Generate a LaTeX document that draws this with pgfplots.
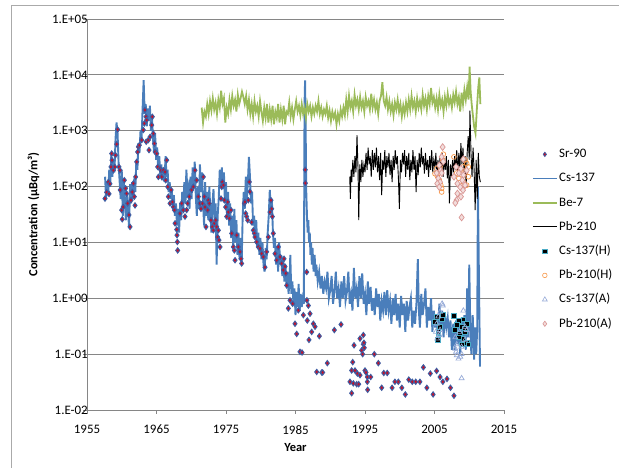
\documentclass[border=0pt]{standalone}
\usepackage{fontspec}
\setmainfont{Carlito}
\usepackage{pgfplots}
\usepackage{pgfplotstable}
\pgfplotsset{compat=1.18}

\definecolor{gridgray}{RGB}{134,134,134}
\definecolor{framegray}{RGB}{170,170,170}
\definecolor{csblue}{RGB}{74,126,187}
\definecolor{begreen}{RGB}{155,187,89}
\definecolor{srred}{RGB}{190,20,45}
\definecolor{srblue}{RGB}{60,95,165}
\definecolor{csteal}{RGB}{75,172,198}
\definecolor{pborange}{RGB}{247,150,70}
\definecolor{cslav}{RGB}{150,170,215}
\definecolor{pbrose}{RGB}{217,150,148}
\definecolor{pbpink}{RGB}{242,220,219}

\pgfplotsset{
  lineleg/.style={legend image code/.code={\draw[##1] (0bp,0bp) -- (24bp,0bp);}},
  markleg/.style={legend image code/.code={\draw[##1] plot coordinates {(12bp,0bp)};}},
}

% Cs-137
\pgfplotstableread[row sep=\\]{
x y\\
1957.6 150\\ 1957.75 60\\ 1957.9 120\\ 1958.05 70\\ 1958.2 200\\ 1958.35 110\\ 1958.5 400\\ 1958.65 150\\
1958.8 300\\ 1958.95 180\\ 1959.1 700\\ 1959.25 1400\\ 1959.4 900\\ 1959.55 250\\ 1959.7 120\\ 1959.85 60\\
1960.0 200\\ 1960.15 30\\ 1960.3 120\\ 1960.45 50\\ 1960.6 25\\ 1960.75 80\\ 1960.9 40\\ 1961.05 18\\
1961.2 110\\ 1961.35 50\\ 1961.5 120\\ 1961.65 60\\ 1961.8 140\\ 1961.95 80\\ 1962.1 300\\ 1962.25 200\\
1962.4 600\\ 1962.55 400\\ 1962.7 1000\\ 1962.85 700\\ 1963.0 2500\\ 1963.15 8000\\ 1963.3 2000\\ 1963.45 3000\\
1963.6 1200\\ 1963.75 2500\\ 1963.9 1500\\ 1964.05 2800\\ 1964.2 1000\\ 1964.35 1800\\ 1964.5 700\\ 1964.65 400\\
1964.8 900\\ 1964.95 300\\ 1965.1 500\\ 1965.25 200\\ 1965.4 350\\ 1965.55 150\\ 1965.7 250\\ 1965.85 130\\
1966.0 200\\ 1966.15 120\\ 1966.3 350\\ 1966.45 150\\ 1966.6 200\\ 1966.75 80\\ 1966.9 120\\ 1967.05 60\\
1967.2 90\\ 1967.35 40\\ 1967.5 70\\ 1967.65 30\\ 1967.8 50\\ 1967.95 20\\ 1968.1 40\\ 1968.25 15\\
1968.4 50\\ 1968.55 25\\ 1968.7 80\\ 1968.85 40\\ 1969.0 120\\ 1969.15 50\\ 1969.3 200\\ 1969.45 80\\
1969.6 100\\ 1969.75 40\\ 1969.9 150\\ 1970.05 60\\ 1970.2 220\\ 1970.35 100\\ 1970.5 280\\ 1970.65 70\\
1970.8 30\\ 1970.95 100\\ 1971.1 40\\ 1971.25 250\\ 1971.4 80\\ 1971.55 180\\ 1971.7 50\\ 1971.85 20\\
1972.0 120\\ 1972.15 30\\ 1972.3 80\\ 1972.45 25\\ 1972.6 100\\ 1972.75 35\\ 1972.9 15\\ 1973.05 50\\
1973.2 90\\ 1973.35 25\\ 1973.5 50\\ 1973.65 4\\ 1973.8 30\\ 1973.95 60\\ 1974.1 200\\ 1974.25 100\\
1974.4 220\\ 1974.55 90\\ 1974.7 180\\ 1974.85 50\\ 1975.0 120\\ 1975.15 30\\ 1975.3 80\\ 1975.45 20\\
1975.6 50\\ 1975.75 12\\ 1975.9 30\\ 1976.05 8\\ 1976.2 40\\ 1976.35 10\\ 1976.5 25\\ 1976.65 6\\
1976.8 15\\ 1976.95 5\\ 1977.1 12\\ 1977.25 4\\ 1977.4 30\\ 1977.55 80\\ 1977.7 40\\ 1977.85 150\\
1978.0 60\\ 1978.15 120\\ 1978.3 340\\ 1978.45 150\\ 1978.6 50\\ 1978.75 80\\ 1978.9 20\\ 1979.05 30\\
1979.2 12\\ 1979.35 25\\ 1979.5 8\\ 1979.65 15\\ 1979.8 6\\ 1979.95 12\\ 1980.1 5\\ 1980.25 10\\
1980.4 4\\ 1980.55 3\\ 1980.7 8\\ 1980.85 5\\ 1981.0 15\\ 1981.15 30\\ 1981.3 87\\ 1981.45 40\\
1981.6 60\\ 1981.75 15\\ 1981.9 8\\ 1982.05 12\\ 1982.2 4\\ 1982.35 8\\ 1982.5 3\\ 1982.65 10\\
1982.8 4\\ 1982.95 6\\ 1983.1 2.5\\ 1983.25 5\\ 1983.4 2\\ 1983.55 4\\ 1983.7 1.6\\ 1983.85 3\\
1984.0 1.2\\ 1984.15 2\\ 1984.25 6\\ 1984.4 1.2\\ 1984.55 2\\ 1984.7 0.8\\ 1984.85 1.5\\ 1985.0 0.5\\
1985.15 1.3\\ 1985.3 0.7\\ 1985.45 1.8\\ 1985.6 0.6\\ 1985.75 1.2\\ 1985.9 0.7\\ 1986.05 1.0\\ 1986.2 0.8\\
1986.3 3000\\ 1986.38 8000\\ 1986.45 1500\\ 1986.55 80\\ 1986.65 30\\ 1986.75 15\\ 1986.85 25\\ 1986.95 10\\
1987.05 15\\ 1987.15 6\\ 1987.25 10\\ 1987.35 4\\ 1987.45 8\\ 1987.6 3\\ 1987.75 6\\ 1987.9 2.5\\
1988.0 4\\ 1988.2 2\\ 1988.4 3\\ 1988.6 1.5\\ 1988.8 2.5\\ 1989.0 1.2\\ 1989.2 2\\ 1989.4 1.5\\
1989.6 3\\ 1989.8 1.0\\ 1990.0 1.4\\ 1990.2 2.5\\ 1990.4 0.8\\ 1990.6 1.3\\ 1990.8 3\\ 1991.0 1.0\\
1991.2 1.5\\ 1991.4 0.7\\ 1991.6 2\\ 1991.8 1.0\\ 1992.0 2.5\\ 1992.2 0.9\\ 1992.4 1.3\\ 1992.6 3\\
1992.8 0.8\\ 1993.0 1.2\\ 1993.2 0.6\\ 1993.4 3.5\\ 1993.6 1.0\\ 1993.8 1.5\\ 1994.0 0.7\\ 1994.2 2.5\\
1994.4 1.0\\ 1994.6 2.8\\ 1994.8 0.8\\ 1995.0 1.2\\ 1995.2 0.5\\ 1995.4 2\\ 1995.6 0.8\\ 1995.8 1.6\\
1996.0 0.6\\ 1996.2 1.0\\ 1996.4 0.5\\ 1996.6 1.5\\ 1996.8 0.7\\ 1997.0 1.2\\ 1997.2 0.4\\ 1997.4 0.9\\
1997.6 0.6\\ 1997.8 1.3\\ 1998.0 0.5\\ 1998.2 1.4\\ 1998.4 0.6\\ 1998.6 0.9\\ 1998.8 0.35\\ 1999.0 1.0\\
1999.2 0.5\\ 1999.4 1.2\\ 1999.6 0.4\\ 1999.8 0.8\\ 2000.0 0.3\\ 2000.2 1.1\\ 2000.4 0.5\\ 2000.6 0.8\\
2000.8 0.25\\ 2001.0 0.9\\ 2001.2 0.4\\ 2001.4 0.7\\ 2001.6 1.0\\ 2001.8 0.3\\ 2002.0 0.6\\ 2002.2 0.35\\
2002.4 0.8\\ 2002.6 5\\ 2002.75 0.6\\ 2002.9 0.3\\ 2003.1 1.2\\ 2003.3 0.5\\ 2003.5 0.8\\ 2003.7 1.5\\
2003.9 0.3\\ 2004.1 0.7\\ 2004.3 0.4\\ 2004.5 1.0\\ 2004.7 0.25\\ 2004.9 0.6\\ 2005.1 0.3\\ 2005.3 0.5\\
2005.5 0.2\\ 2005.7 0.8\\ 2005.9 0.35\\ 2006.1 0.6\\ 2006.3 0.2\\ 2006.5 0.5\\ 2006.7 0.3\\ 2006.9 0.45\\
2007.1 0.2\\ 2007.3 0.4\\ 2007.5 0.12\\ 2007.7 0.35\\ 2007.9 0.12\\ 2008.1 0.4\\ 2008.3 0.15\\ 2008.5 0.3\\
2008.7 0.1\\ 2008.9 0.45\\ 2009.1 0.15\\ 2009.3 0.5\\ 2009.5 0.12\\ 2009.7 1.5\\ 2009.85 0.2\\ 2010.0 4\\
2010.15 0.3\\ 2010.3 0.1\\ 2010.5 0.5\\ 2010.7 0.08\\ 2010.85 0.3\\ 2011.0 0.1\\ 2011.15 0.3\\ 2011.25 100\\
2011.4 2\\ 2011.55 0.06\\
}\cstab

% Be-7
\pgfplotstableread[row sep=\\]{
x y\\
1971.5 2600\\ 1971.7 1400\\ 1971.9 2200\\ 1972.1 1800\\ 1972.3 3000\\ 1972.5 2000\\ 1972.7 3400\\ 1972.9 2300\\
1973.1 3800\\ 1973.3 2400\\ 1973.5 3200\\ 1973.7 2000\\ 1973.9 3600\\ 1974.1 2600\\ 1974.3 5200\\ 1974.5 3000\\
1974.7 3800\\ 1974.9 1400\\ 1975.1 2600\\ 1975.3 2000\\ 1975.5 3600\\ 1975.7 2400\\ 1975.9 4200\\ 1976.1 2800\\
1976.3 3600\\ 1976.5 2200\\ 1976.7 4400\\ 1976.9 3000\\ 1977.1 3800\\ 1977.3 5000\\ 1977.5 4000\\ 1977.7 3000\\
1977.9 4200\\ 1978.1 2400\\ 1978.3 3600\\ 1978.5 2000\\ 1978.7 3000\\ 1978.9 1800\\ 1979.1 3400\\ 1979.3 2200\\
1979.5 2800\\ 1979.7 1800\\ 1979.9 3400\\ 1980.1 2200\\ 1980.3 1500\\ 1980.5 2600\\ 1980.7 1700\\ 1980.9 3000\\
1981.1 1400\\ 1981.3 2400\\ 1981.5 1600\\ 1981.7 2800\\ 1981.9 1300\\ 1982.1 2200\\ 1982.3 1700\\ 1982.5 3000\\
1982.7 1400\\ 1982.9 2400\\ 1983.1 1600\\ 1983.3 2800\\ 1983.5 1300\\ 1983.7 2200\\ 1983.9 2000\\ 1984.1 3200\\
1984.3 1800\\ 1984.5 2600\\ 1984.7 1600\\ 1984.9 2400\\ 1985.1 3400\\ 1985.3 2200\\ 1985.5 2800\\ 1985.7 1900\\
1985.9 3000\\ 1986.1 2000\\ 1986.3 2600\\ 1986.5 1700\\ 1986.7 3000\\ 1986.9 2200\\ 1987.1 2800\\ 1987.3 1800\\
1987.5 2600\\ 1987.7 2000\\ 1987.9 2800\\ 1988.1 2200\\ 1988.3 3400\\ 1988.5 2000\\ 1988.7 2600\\ 1988.9 1800\\
1989.1 2400\\ 1989.3 2000\\ 1989.5 2800\\ 1989.7 1700\\ 1989.9 2300\\ 1990.1 1500\\ 1990.3 2200\\ 1990.5 1700\\
1990.7 2100\\ 1990.9 1300\\ 1991.1 2000\\ 1991.3 1500\\ 1991.5 2400\\ 1991.7 1800\\ 1991.9 2600\\ 1992.1 1900\\
1992.3 3600\\ 1992.5 2200\\ 1992.7 4200\\ 1992.9 2600\\ 1993.1 3400\\ 1993.3 2200\\ 1993.5 4400\\ 1993.7 2800\\
1993.9 3600\\ 1994.1 2400\\ 1994.3 4000\\ 1994.5 2600\\ 1994.7 3400\\ 1994.9 2200\\ 1995.1 4000\\ 1995.3 2800\\
1995.5 3400\\ 1995.7 2400\\ 1995.9 4600\\ 1996.1 2600\\ 1996.3 3600\\ 1996.5 2400\\ 1996.7 3200\\ 1996.9 2000\\
1997.1 3400\\ 1997.3 4200\\ 1997.5 7400\\ 1997.7 3400\\ 1997.9 2800\\ 1998.1 4000\\ 1998.3 2400\\ 1998.5 3400\\
1998.7 2200\\ 1998.9 3000\\ 1999.1 1900\\ 1999.3 3200\\ 1999.5 2400\\ 1999.7 3600\\ 1999.9 2200\\ 2000.1 3000\\
2000.3 1800\\ 2000.5 2800\\ 2000.7 2000\\ 2000.9 3200\\ 2001.1 2200\\ 2001.3 3600\\ 2001.5 2400\\ 2001.7 4200\\
2001.9 2600\\ 2002.1 3400\\ 2002.3 2200\\ 2002.5 3800\\ 2002.7 2600\\ 2002.9 3400\\ 2003.1 2400\\ 2003.3 4400\\
2003.5 2800\\ 2003.7 3800\\ 2003.9 2400\\ 2004.1 4200\\ 2004.3 3000\\ 2004.5 5800\\ 2004.7 3200\\ 2004.9 4000\\
2005.1 2600\\ 2005.3 3800\\ 2005.5 2400\\ 2005.7 4400\\ 2005.9 2800\\ 2006.1 3600\\ 2006.3 2200\\ 2006.5 4000\\
2006.7 2800\\ 2006.9 4600\\ 2007.1 3000\\ 2007.3 3800\\ 2007.5 2600\\ 2007.7 4400\\ 2007.9 3200\\ 2008.1 5000\\
2008.3 3000\\ 2008.5 4000\\ 2008.7 2200\\ 2008.9 4800\\ 2009.1 3000\\ 2009.3 5400\\ 2009.5 3600\\ 2009.7 6000\\
2009.9 3600\\ 2010.05 14000\\ 2010.2 5000\\ 2010.35 3000\\ 2010.5 2000\\ 2010.7 1200\\ 2010.9 900\\ 2011.1 2500\\
2011.3 6000\\ 2011.45 9000\\ 2011.6 3000\\
}\betab

% Pb-210
\pgfplotstableread[row sep=\\]{
x y\\
1992.8 150\\ 1992.9 60\\ 1993.0 200\\ 1993.1 120\\ 1993.25 300\\ 1993.4 150\\ 1993.55 350\\ 1993.7 180\\
1993.85 830\\ 1994.0 200\\ 1994.1 25\\ 1994.25 250\\ 1994.4 120\\ 1994.55 300\\ 1994.7 150\\ 1994.85 250\\
1995.0 180\\ 1995.15 400\\ 1995.3 200\\ 1995.45 500\\ 1995.6 250\\ 1995.75 350\\ 1995.9 150\\ 1996.05 450\\
1996.2 200\\ 1996.35 400\\ 1996.5 220\\ 1996.65 500\\ 1996.8 180\\ 1996.95 350\\ 1997.1 130\\ 1997.25 400\\
1997.4 70\\ 1997.55 300\\ 1997.7 200\\ 1997.85 450\\ 1998.0 150\\ 1998.15 350\\ 1998.3 220\\ 1998.45 400\\
1998.6 160\\ 1998.75 300\\ 1998.9 120\\ 1999.05 350\\ 1999.2 200\\ 1999.35 450\\ 1999.5 250\\ 1999.65 350\\
1999.8 150\\ 1999.95 40\\ 2000.1 300\\ 2000.25 180\\ 2000.4 400\\ 2000.55 250\\ 2000.7 450\\ 2000.85 150\\
2001.0 350\\ 2001.15 200\\ 2001.3 400\\ 2001.45 130\\ 2001.6 300\\ 2001.75 180\\ 2001.9 450\\ 2002.05 200\\
2002.2 350\\ 2002.35 80\\ 2002.5 300\\ 2002.65 160\\ 2002.8 400\\ 2002.95 220\\ 2003.1 500\\ 2003.25 250\\
2003.4 350\\ 2003.55 170\\ 2003.7 400\\ 2003.85 200\\ 2004.0 300\\ 2004.15 150\\ 2004.3 350\\ 2004.45 200\\
2004.6 450\\ 2004.75 180\\ 2004.9 300\\ 2005.05 220\\ 2005.2 400\\ 2005.35 150\\ 2005.5 300\\ 2005.65 180\\
2005.8 350\\ 2005.95 200\\ 2006.1 400\\ 2006.25 150\\ 2006.4 300\\ 2006.55 200\\ 2006.7 350\\ 2006.85 140\\
2007.0 300\\ 2007.15 50\\ 2007.3 250\\ 2007.45 150\\ 2007.6 300\\ 2007.75 180\\ 2007.9 350\\ 2008.05 200\\
2008.2 450\\ 2008.35 160\\ 2008.5 400\\ 2008.65 200\\ 2008.8 600\\ 2008.95 250\\ 2009.1 500\\ 2009.25 180\\
2009.4 350\\ 2009.55 100\\ 2009.7 400\\ 2009.85 800\\ 2010.0 300\\ 2010.1 2300\\ 2010.25 400\\ 2010.4 150\\
2010.55 500\\ 2010.7 200\\ 2010.85 38\\ 2011.0 300\\ 2011.15 60\\ 2011.3 400\\ 2011.45 150\\ 2011.6 120\\
}\pbtab

% Sr-90
\pgfplotstableread[row sep=\\]{
x y\\
1957.59 61\\ 1957.83 79\\ 1958.17 74\\ 1958.07 121\\ 1958.3 112\\ 1958.45 225\\ 1958.55 390\\ 1958.6 297\\
1958.8 196\\ 1959.0 225\\ 1959.1 365\\ 1959.27 575\\ 1959.41 1050\\ 1959.6 225\\ 1959.75 196\\ 1959.78 87\\
1959.99 38\\ 1960.07 26\\ 1960.2 43\\ 1960.37 130\\ 1960.56 93\\ 1960.7 75\\ 1960.85 50\\ 1961.04 31\\
1961.19 19\\ 1961.33 57\\ 1961.52 80\\ 1961.67 114\\ 1961.81 66\\ 1961.91 46\\ 1962.0 149\\ 1962.15 277\\
1962.29 417\\ 1962.39 515\\ 1962.53 550\\ 1962.87 680\\ 1963.1 1030\\ 1963.25 1350\\ 1963.34 2350\\ 1963.49 1780\\
1963.58 1550\\ 1963.52 635\\ 1963.82 680\\ 1963.92 450\\ 1964.07 775\\ 1964.31 1260\\ 1964.4 1780\\ 1964.55 890\\
1964.7 590\\ 1964.8 417\\ 1965.03 390\\ 1965.17 225\\ 1965.27 149\\ 1965.51 210\\ 1965.65 196\\ 1965.75 149\\
1965.99 196\\ 1966.23 183\\ 1966.33 130\\ 1966.47 297\\ 1966.62 99\\ 1966.71 66\\ 1966.95 50\\ 1967.1 87\\
1967.29 53\\ 1967.43 43\\ 1967.58 38\\ 1967.67 22\\ 1967.91 17\\ 1967.95 13.5\\ 1968.0 10.2\\ 1968.05 7.2\\
1968.38 33\\ 1968.62 50\\ 1968.86 38\\ 1969.1 29\\ 1969.34 38\\ 1969.48 50\\ 1969.72 66\\ 1970.06 87\\
1970.3 99\\ 1970.54 196\\ 1970.78 130\\ 1971.02 66\\ 1971.26 50\\ 1971.4 40\\ 1971.6 50\\ 1971.74 149\\
1971.88 66\\ 1971.98 43\\ 1972.12 19\\ 1972.36 38\\ 1972.46 57\\ 1972.6 50\\ 1972.84 25\\ 1973.03 19\\
1973.18 16.5\\ 1973.32 22\\ 1973.51 25\\ 1973.66 19\\ 1973.8 12.5\\ 1973.9 16.5\\ 1973.99 11\\ 1974.14 8.3\\
1974.28 61\\ 1974.38 99\\ 1974.47 121\\ 1974.62 106\\ 1974.76 57\\ 1974.95 43\\ 1975.1 29\\ 1975.24 53\\
1975.34 35\\ 1975.48 27\\ 1975.72 38\\ 1975.82 14.5\\ 1976.06 8.3\\ 1976.2 7.2\\ 1976.3 4.8\\ 1976.54 13.5\\
1976.78 8.3\\ 1977.01 6.8\\ 1977.16 5.1\\ 1977.25 4.2\\ 1977.64 50\\ 1977.73 53\\ 1977.83 33\\ 1977.97 29\\
1978.12 25\\ 1978.21 57\\ 1978.36 121\\ 1978.45 81\\ 1978.69 23\\ 1978.93 16.5\\ 1979.08 14.5\\ 1979.17 12.5\\
1979.41 10.2\\ 1979.65 8.3\\ 1979.89 7.8\\ 1980.13 6.3\\ 1980.37 5.5\\ 1980.61 3.6\\ 1980.85 6.8\\ 1981.09 12.5\\
1981.33 35\\ 1981.47 57\\ 1981.57 40\\ 1981.67 29\\ 1981.81 14.5\\ 1982.05 6.3\\ 1982.29 4.8\\ 1982.53 8.3\\
1982.77 5.5\\ 1983.01 4.2\\ 1983.25 3.2\\ 1983.35 5.1\\ 1983.49 3.7\\ 1983.6 2.8\\ 1983.73 1.7\\ 1983.97 0.66\\
1984.21 0.92\\ 1984.59 0.8\\ 1984.93 0.35\\ 1985.17 0.23\\ 1985.41 0.61\\ 1985.65 0.11\\ 1985.94 0.107\\ 1986.13 0.5\\
1986.4 200\\ 1986.42 115\\ 1986.61 2.95\\ 1986.64 0.92\\ 1986.85 0.74\\ 1986.7 0.4\\ 1987.09 0.53\\ 1986.94 0.18\\
1987.33 0.25\\ 1987.57 0.35\\ 1987.81 0.31\\ 1988.43 0.21\\ 1988.05 0.048\\ 1988.77 0.047\\ 1988.91 0.047\\ 1989.58 0.069\\
1990.59 0.27\\ 1991.55 0.34\\ 1993.42 0.144\\ 1994.28 0.19\\ 1994.52 0.117\\ 1994.76 0.15\\ 1994.66 0.10\\ 1993.23 0.072\\
1993.08 0.051\\ 1993.56 0.051\\ 1993.9 0.045\\ 1994.28 0.042\\ 1992.84 0.032\\ 1993.32 0.030\\ 1993.8 0.029\\ 1994.09 0.029\\
1993.08 0.020\\ 1995.0 0.051\\ 1995.14 0.047\\ 1995.34 0.039\\ 1995.82 0.039\\ 1994.76 0.22\\ 1994.85 0.16\\ 1994.9 0.13\\
1995.34 0.032\\ 1996.34 0.10\\ 1996.92 0.069\\ 1995.38 0.023\\ 1997.4 0.025\\ 1997.7 0.046\\ 1998.2 0.046\\ 1998.9 0.025\\
1999.3 0.032\\ 1999.8 0.032\\ 2000.3 0.025\\ 2000.8 0.019\\ 2001.3 0.035\\ 2001.8 0.032\\ 2002.3 0.032\\ 2002.9 0.032\\
2003.4 0.058\\ 2003.9 0.025\\ 2004.4 0.045\\ 2004.8 0.019\\ 2005.3 0.05\\ 2005.8 0.039\\ 2006.2 0.032\\ 2006.8 0.036\\
2007.3 0.025\\ 2007.8 0.018\\
}\srtab

% Cs-137(H)
\pgfplotstableread[row sep=\\]{
x y\\
2005.3 0.47\\ 2006.2 0.5\\ 2005.07 0.38\\ 2005.8 0.31\\ 2005.55 0.25\\ 2005.55 0.2\\ 2005.45 0.18\\ 2006.0 0.42\\
2007.8 0.48\\ 2008.45 0.4\\ 2009.15 0.42\\ 2008.2 0.33\\ 2008.9 0.31\\ 2009.63 0.35\\ 2007.9 0.27\\ 2008.7 0.23\\
2009.4 0.25\\ 2008.45 0.2\\ 2009.15 0.19\\ 2009.63 0.16\\ 2009.87 0.15\\ 2008.9 0.15\\ 2009.4 0.29\\
}\cshtab

% Pb-210(H)
\pgfplotstableread[row sep=\\]{
x y\\
2006.27 380\\ 2006.18 300\\ 2005.8 225\\ 2005.3 210\\ 2005.07 170\\ 2005.4 155\\ 2005.7 130\\ 2005.9 106\\
2006.03 93\\ 2006.03 80\\ 2007.8 340\\ 2009.4 300\\ 2009.63 260\\ 2009.87 225\\ 2009.15 225\\ 2008.7 195\\
2008.2 175\\ 2009.5 183\\ 2009.87 150\\ 2008.5 140\\ 2009.15 120\\ 2009.63 106\\ 2009.0 93\\
}\pbhtab

% Cs-137(A)
\pgfplotstableread[row sep=\\]{
x y\\
2006.2 0.74\\ 2005.8 0.57\\ 2005.55 0.47\\ 2005.3 0.35\\ 2005.8 0.27\\ 2005.2 0.25\\ 2005.7 0.22\\ 2005.4 0.19\\
2006.1 0.8\\ 2009.15 0.6\\ 2008.0 0.2\\ 2008.2 0.15\\ 2008.0 0.125\\ 2008.2 0.095\\ 2008.7 0.09\\ 2008.45 0.083\\
2008.9 0.1\\ 2009.4 0.18\\ 2009.63 0.27\\ 2009.4 0.31\\ 2008.9 0.135\\ 2008.6 0.25\\ 2008.1 0.11\\ 2008.9 0.037\\
}\csatab

% Pb-210(A)
\pgfplotstableread[row sep=\\]{
x y\\
2006.17 510\\ 2006.03 340\\ 2006.26 280\\ 2005.69 240\\ 2005.9 195\\ 2005.3 175\\ 2006.03 175\\ 2005.55 140\\
2005.8 120\\ 2005.4 113\\ 2005.69 98\\ 2009.15 310\\ 2008.1 225\\ 2008.8 210\\ 2009.63 195\\ 2008.5 175\\
2009.15 160\\ 2007.8 150\\ 2009.0 130\\ 2008.3 113\\ 2009.4 106\\ 2008.7 98\\ 2009.1 86\\ 2008.3 75\\
2008.8 66\\ 2008.17 57\\ 2008.0 51\\ 2008.9 28\\
}\pbatab

\begin{document}
\begin{tikzpicture}
\path[use as bounding box] (0bp,0bp) rectangle (619bp,468bp);
\draw[framegray, line width=0.8bp] (11bp,0bp) -- (11bp,463bp) -- (619bp,463bp);
\begin{axis}[
  at={(87bp,58bp)}, anchor=south west,
  scale only axis, width=417bp, height=391bp,
  ymode=log, log basis y=10,
  xmin=1955, xmax=2015, ymin=1e-2, ymax=1e5,
  axis lines=left, axis line style={-, draw=gridgray, line width=0.8bp},
  xtick={1955,1965,1975,1985,1995,2005,2015},
  xticklabels={1955,1965,1975,1985,1995,2005,2015},
  ytick={1e-2,1e-1,1,10,100,1000,1e4,1e5},
  yticklabels={1.E-02,1.E-01,1.E+00,1.E+01,1.E+02,1.E+03,1.E+04,1.E+05},
  minor y tick num=0, yminorticks=false,
  ymajorgrids, grid style={gridgray, line width=0.8bp},
  tick align=outside, major tick length=4bp,
  tick style={gridgray, line width=0.8bp},
  tick label style={font=\fontsize{13}{15}\selectfont, black},
  yticklabel style={anchor=east, inner sep=0pt, xshift=5bp},
  xticklabel style={anchor=north, inner sep=0pt, yshift=-11bp},
  xlabel={Year}, ylabel={Concentration (µBq/m³)},
  every axis x label/.style={at={(axis description cs:0.5,-0.097)}, anchor=center,
    font=\fontsize{12.5}{14}\selectfont\bfseries},
  every axis y label/.style={at={(axis description cs:-0.128,0.5)}, rotate=90, anchor=center,
    font=\fontsize{12.5}{14}\selectfont\bfseries},
  legend style={at={(axis description cs:1.067,0.671)}, anchor=north west,
    draw=none, fill=none, inner sep=0pt, outer sep=0pt,
    font=\fontsize{13}{15}\selectfont, row sep=10.7bp, column sep=1.5bp,
    nodes={inner sep=0pt, text height=10bp, text depth=3.5bp}},
  legend cell align=left,
]
\addplot[forget plot, csblue, line width=1.9bp] table {\cstab};
\addplot[forget plot, begreen, line width=1.8bp] table {\betab};
\addplot[forget plot, black, line width=0.9bp] table {\pbtab};
\addplot[forget plot, only marks, mark=diamond*, mark size=2.7bp,
  mark options={fill=srred, draw=srblue, line width=0.9bp}] table {\srtab};
\addplot[forget plot, only marks, mark=square*, mark size=2.4bp,
  mark options={fill=black, draw=csteal, line width=0.7bp}] table {\cshtab};
\addplot[forget plot, only marks, mark=o, mark size=2.4bp,
  mark options={draw=pborange, line width=0.7bp}] table {\pbhtab};
\addplot[forget plot, only marks, mark=triangle, mark size=2.9bp,
  mark options={draw=cslav, line width=0.7bp}] table {\csatab};
\addplot[forget plot, only marks, mark=diamond*, mark size=3.4bp,
  mark options={fill=pbpink, draw=pbrose, line width=0.7bp}] table {\pbatab};

\addlegendimage{markleg, only marks, mark=diamond*, mark size=2.2bp,
  mark options={fill=srred, draw=srblue, line width=0.7bp}}
\addlegendentry{Sr-90}
\addlegendimage{lineleg, csblue, line width=1.8bp}
\addlegendentry{Cs-137}
\addlegendimage{lineleg, begreen, line width=1.8bp}
\addlegendentry{Be-7}
\addlegendimage{lineleg, black, line width=1bp}
\addlegendentry{Pb-210}
\addlegendimage{markleg, only marks, mark=square*, mark size=2.3bp,
  mark options={fill=black, draw=csteal, line width=0.6bp}}
\addlegendentry{Cs-137(H)}
\addlegendimage{markleg, only marks, mark=o, mark size=2.3bp,
  mark options={draw=pborange, line width=0.6bp}}
\addlegendentry{Pb-210(H)}
\addlegendimage{markleg, only marks, mark=triangle, mark size=2.8bp,
  mark options={draw=cslav, line width=0.6bp}}
\addlegendentry{Cs-137(A)}
\addlegendimage{markleg, only marks, mark=diamond*, mark size=2.6bp,
  mark options={fill=pbpink, draw=pbrose, line width=0.6bp}}
\addlegendentry{Pb-210(A)}
\end{axis}
\end{tikzpicture}
\end{document}
